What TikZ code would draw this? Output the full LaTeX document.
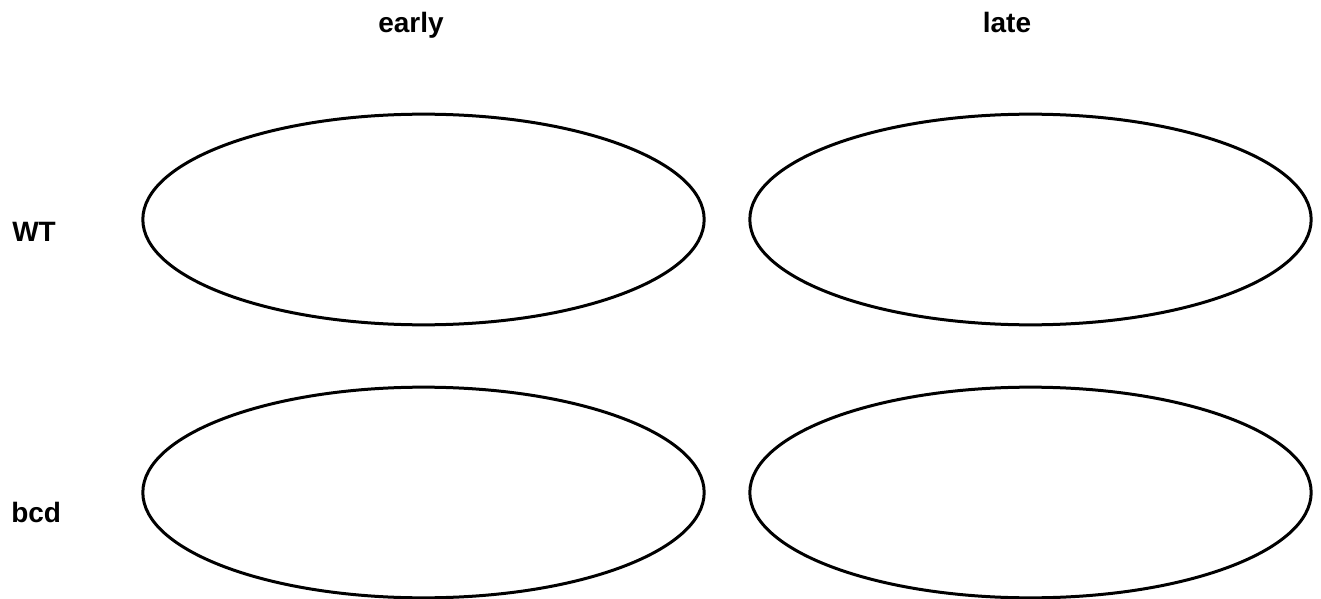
\documentclass[tikz,border=0pt]{standalone}
\usepackage{fontspec}
\setmainfont{Liberation Sans}
\usetikzlibrary{shapes.geometric}
\tikzset{
	headtext/.style={font=\fontsize{21}{25}\selectfont\bfseries, inner sep=0pt}
}
\tikzset{
	cellshape/.style={draw, ellipse, line width=2.25pt, inner sep=0pt,
		minimum width=421pt, minimum height=158pt}
}

\begin{document}
\begin{tikzpicture}[x=0.75pt, y=-0.75pt]
      \useasboundingbox (0,0) rectangle (1321,599);

      % column headings
      \node[headtext, anchor=base] (early) at (411,33) {early};
      \node[headtext, anchor=base] (late) at (1007,33) {late};

      % row headings
      \node[headtext, anchor=base west] (wt) at (12,242) {WT};
      \node[headtext, anchor=base west] (bcd) at (11,522) {bcd};

      % empty ellipses, one per genotype and stage
      \foreach \nm/\cx/\cy in {wtearly/423.5/219.5, wtlate/1030.5/219.5,
                               bcdearly/423.5/492.5, bcdlate/1030.5/492.5} {
        \node[cellshape] (\nm) at (\cx,\cy) {};
      }
    \end{tikzpicture}
\end{document}
